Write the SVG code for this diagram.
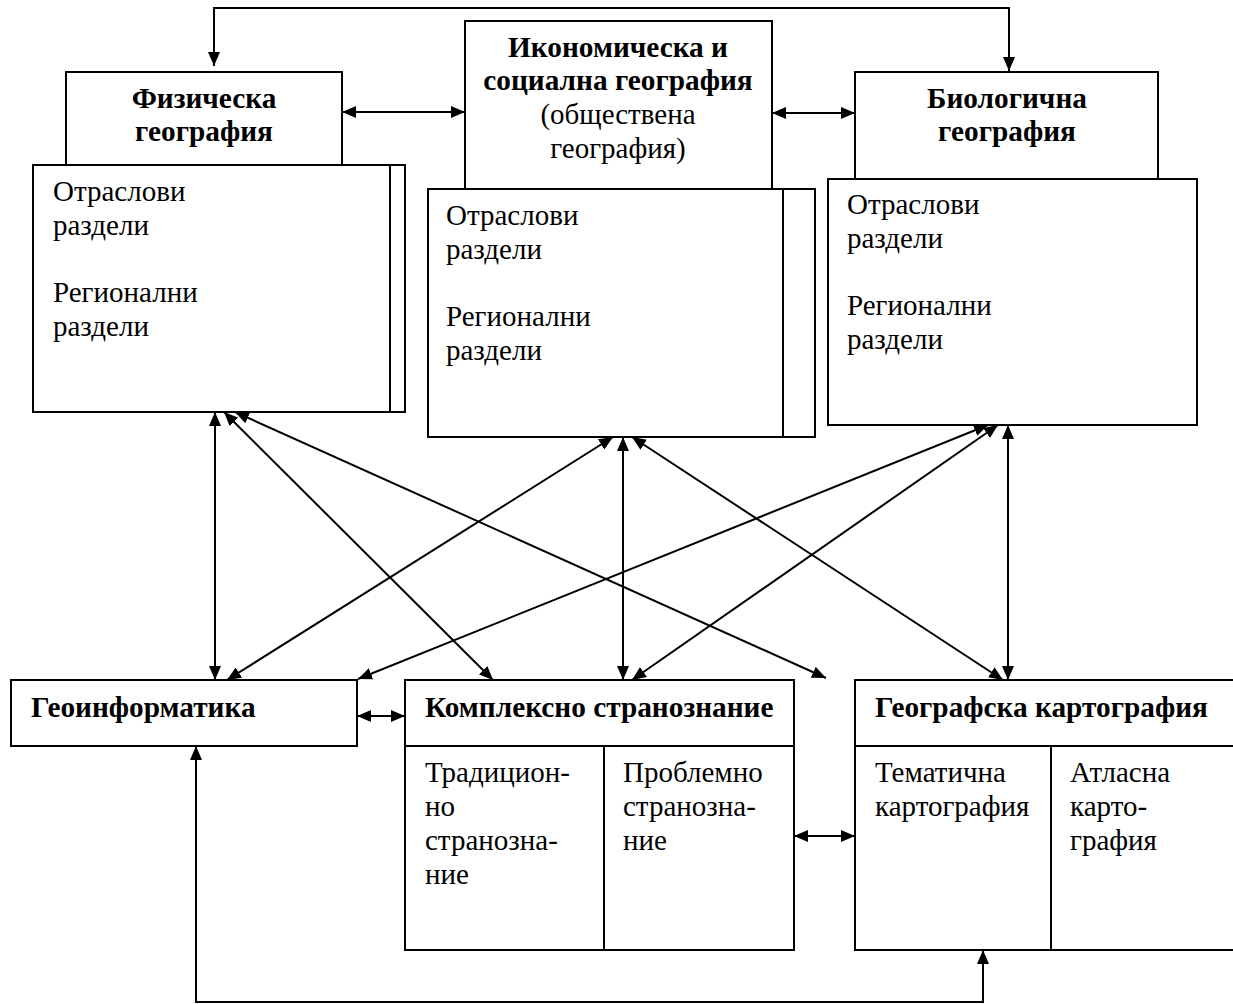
<svg xmlns="http://www.w3.org/2000/svg" width="1233" height="1004" viewBox="0 0 1233 1004">
<style>
.box{fill:#fff;stroke:#000;stroke-width:2}
.ln{fill:none;stroke:#000;stroke-width:2}
.b{font-family:"Liberation Serif","Times New Roman",serif;font-weight:bold;font-size:29.3px;fill:#000}
.r{font-family:"Liberation Serif","Times New Roman",serif;font-size:29px;fill:#000}
.c{text-anchor:middle}
.con{fill:none;stroke:#000;stroke-width:2;marker-start:url(#ah);marker-end:url(#ah)}
</style>
<defs>
<marker id="ah" viewBox="0 0 14 12" markerWidth="14" markerHeight="12" refX="14" refY="6" orient="auto-start-reverse" markerUnits="userSpaceOnUse">
<path d="M0,0 L14,6 L0,12 z" fill="#000"/>
</marker>
</defs>
<rect width="1233" height="1004" fill="#fff"/>

<g id="phys">
<rect class="box" x="66" y="72" width="276" height="93"/>
<rect class="box" x="33" y="165" width="372" height="247"/>
<line class="ln" x1="390" y1="165" x2="390" y2="412"/>
<text class="b c" x="204" y="108">Физическа</text>
<text class="b c" x="204" y="141">география</text>
<text class="r" x="53" y="201">Отраслови</text>
<text class="r" x="53" y="235">раздели</text>
<text class="r" x="53" y="302">Регионални</text>
<text class="r" x="53" y="336">раздели</text>
</g>

<g id="econ">
<rect class="box" x="465" y="21" width="307" height="168"/>
<rect class="box" x="428" y="189" width="387" height="248"/>
<line class="ln" x1="783" y1="189" x2="783" y2="437"/>
<text class="b c" x="618" y="57">Икономическа и</text>
<text class="b c" x="618" y="90">социална география</text>
<text class="r c" x="618" y="124">(обществена</text>
<text class="r c" x="618" y="158">география)</text>
<text class="r" x="446" y="225">Отраслови</text>
<text class="r" x="446" y="259">раздели</text>
<text class="r" x="446" y="326">Регионални</text>
<text class="r" x="446" y="360">раздели</text>
</g>

<g id="bio">
<rect class="box" x="855" y="72" width="303" height="107"/>
<rect class="box" x="828" y="179" width="369" height="246"/>
<text class="b c" x="1007" y="108">Биологична</text>
<text class="b c" x="1007" y="141">география</text>
<text class="r" x="847" y="214">Отраслови</text>
<text class="r" x="847" y="248">раздели</text>
<text class="r" x="847" y="315">Регионални</text>
<text class="r" x="847" y="349">раздели</text>
</g>

<g id="geoinf">
<rect class="box" x="11" y="680" width="346" height="66"/>
<text class="b" x="31" y="717">Геоинформатика</text>
</g>

<g id="kompl">
<rect class="box" x="405" y="680" width="389" height="270"/>
<line class="ln" x1="405" y1="746" x2="794" y2="746"/>
<line class="ln" x1="604" y1="746" x2="604" y2="950"/>
<text class="b" x="425" y="717">Комплексно странознание</text>
<text class="r" x="425" y="782">Традицион-</text>
<text class="r" x="425" y="816">но</text>
<text class="r" x="425" y="850">странозна-</text>
<text class="r" x="425" y="884">ние</text>
<text class="r" x="623" y="782">Проблемно</text>
<text class="r" x="623" y="816">странозна-</text>
<text class="r" x="623" y="850">ние</text>
</g>

<g id="kart">
<rect class="box" x="855" y="680" width="380" height="270"/>
<line class="ln" x1="855" y1="746" x2="1233" y2="746"/>
<line class="ln" x1="1051" y1="746" x2="1051" y2="950"/>
<text class="b" x="875" y="717">Географска картография</text>
<text class="r" x="875" y="782">Тематична</text>
<text class="r" x="875" y="816">картография</text>
<text class="r" x="1070" y="782">Атласна</text>
<text class="r" x="1070" y="816">карто-</text>
<text class="r" x="1070" y="850">графия</text>
</g>

<g id="connectors">
<path class="con" d="M214,66 L214,8 L1009,8 L1009,71"/>
<path class="con" d="M342,112 L465,112"/>
<path class="con" d="M772,113 L855,113"/>
<path class="con" d="M215,412 L215,680"/>
<path class="con" d="M224,412 L493,680"/>
<path class="con" d="M235,412 L826,678"/>
<path class="con" d="M623,437 L623,680"/>
<path class="con" d="M613,437 L227,680"/>
<path class="con" d="M632,437 L1003,680"/>
<path class="con" d="M1008,425 L1008,680"/>
<path class="con" d="M988,425 L358,679"/>
<path class="con" d="M998,425 L632,680"/>
<path class="con" d="M357,716 L405,716"/>
<path class="con" d="M794,836 L855,836"/>
<path class="con" d="M196,746 L196,1002 L983,1002 L983,950"/>
</g>
</svg>
